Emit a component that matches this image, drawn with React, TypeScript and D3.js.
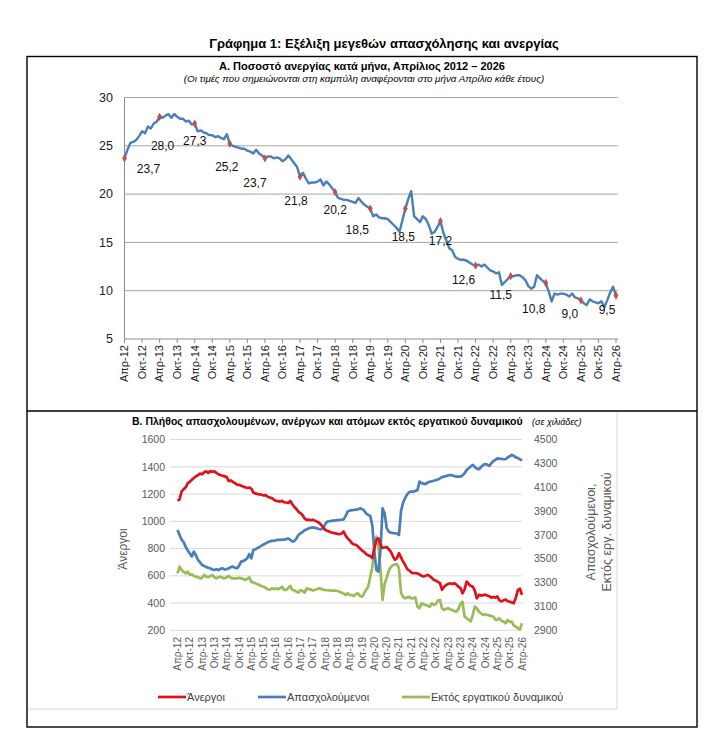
import React from "react";
import * as d3 from "d3";

const FONT = "'Liberation Sans', Arial, sans-serif";

// ---------- DATA ----------
const xTickLabels = ["Απρ-12","Οκτ-12","Απρ-13","Οκτ-13","Απρ-14","Οκτ-14","Απρ-15","Οκτ-15","Απρ-16","Οκτ-16","Απρ-17","Οκτ-17","Απρ-18","Οκτ-18","Απρ-19","Οκτ-19","Απρ-20","Οκτ-20","Απρ-21","Οκτ-21","Απρ-22","Οκτ-22","Απρ-23","Οκτ-23","Απρ-24","Οκτ-24","Απρ-25","Οκτ-25","Απρ-26"];

// Unemployment rate (%), monthly Apr-2012 .. Apr-2026
const unemploymentRate = [
  23.7, 24.6, 25.3, 25.4, 25.6, 26.0, 26.5, 26.3, 27.0, 26.8, 27.3, 27.5,
  28.0, 27.9, 28.1, 28.3, 27.9, 28.3, 28.0, 27.8, 27.8, 27.5, 27.6, 27.2,
  27.3, 26.5, 26.6, 26.4, 26.3, 26.1, 26.1, 25.9, 26.0, 25.8, 25.7, 26.2,
  25.2, 25.0, 24.9, 24.8, 24.7, 24.7, 24.5, 24.4, 24.2, 24.6, 24.2, 24.0,
  23.7, 23.9, 23.9, 23.7, 23.8, 23.7, 23.4, 23.6, 24.0, 23.6, 23.2, 22.8,
  21.8, 22.2, 21.6, 21.1, 21.2, 21.2, 21.3, 21.5, 20.9, 21.3, 21.0, 20.6,
  20.2, 19.6, 19.5, 19.4, 19.4, 19.3, 19.2, 19.1, 19.6, 19.2, 18.9, 18.7,
  18.5, 17.7, 17.9, 17.6, 17.5, 17.5, 17.4, 17.1, 16.8, 16.5, 16.1, 17.3,
  18.5, 19.5, 20.3, 17.7, 17.4, 17.1, 17.7, 17.4, 16.8, 15.9, 16.1, 16.6,
  17.2, 16.0, 15.2, 14.4, 14.2, 13.5, 13.3, 13.2, 13.2, 13.1, 12.9, 12.7,
  12.6, 12.7, 12.5, 12.7, 12.4, 12.1, 12.0, 11.8, 11.9, 10.6, 10.9, 11.2,
  11.5, 11.5, 11.6, 11.6, 11.4, 11.1, 10.5, 10.2, 10.4, 11.6, 11.3, 11.0,
  10.8, 9.9, 8.9, 9.7, 9.6, 9.7, 9.7, 9.6, 9.4, 9.7, 9.3, 9.2,
  9.0, 8.7, 8.5, 9.1, 8.9, 8.8, 8.7, 8.9, 8.3, 9.0, 9.8, 10.4,
  9.5
];

// Thousands, monthly Apr-2012 .. Apr-2026
const unemployed = [
  1153, 1160, 1220, 1235, 1250, 1280, 1290, 1305, 1318, 1330, 1340, 1350,
  1345, 1360, 1367, 1355, 1370, 1362, 1367, 1355, 1345, 1340, 1335, 1330,
  1325, 1295, 1300, 1290, 1280, 1270, 1268, 1262, 1255, 1250, 1245, 1248,
  1240, 1210, 1205, 1200, 1198, 1195, 1190, 1192, 1180, 1175, 1170, 1160,
  1150, 1148, 1145, 1150, 1140, 1138, 1135, 1150, 1125, 1105, 1090, 1070,
  1060, 1045, 1020, 1010, 1012, 1008, 1012, 1005, 998, 990, 975, 955,
  938, 930, 925, 918, 915, 912, 908, 905, 910, 925, 895, 875,
  860, 840, 830, 828, 815, 800, 785, 775, 760, 750, 745, 730,
  800, 865, 875, 830, 805, 808, 812, 795, 778, 745, 717, 729,
  766, 735, 705, 680, 650, 640, 625, 619, 620, 618, 610, 600,
  595, 600, 607, 598, 585, 570, 565, 555, 546, 497, 520, 533,
  540, 545, 540, 546, 535, 521, 510, 472, 500, 558, 540, 525,
  521, 490, 435, 460, 455, 458, 462, 455, 450, 440, 445, 440,
  448, 420, 412, 420, 425, 415, 410, 405, 399, 440, 497, 505,
  460
];

const employed = [
  3742, 3700, 3660, 3640, 3600, 3570, 3545, 3520, 3560, 3530, 3490, 3470,
  3448, 3440, 3430, 3425, 3420, 3410, 3406, 3412, 3405, 3415, 3420, 3410,
  3412, 3420, 3430, 3434, 3425, 3420, 3440, 3476, 3480, 3490, 3504, 3540,
  3504, 3574, 3580, 3590, 3600, 3610, 3620, 3630, 3640, 3645, 3650, 3652,
  3655, 3660, 3658, 3662, 3660, 3665, 3670, 3660, 3644, 3650, 3670, 3700,
  3714, 3725, 3740, 3747, 3755, 3760, 3764, 3760, 3755, 3750, 3747, 3756,
  3790, 3812, 3815, 3818, 3820, 3822, 3825, 3826, 3828, 3831, 3860, 3896,
  3904, 3908, 3909, 3912, 3915, 3923, 3918, 3905, 3880, 3868, 3860, 3780,
  3560, 3406, 3392, 3574, 3923, 3881, 3760, 3728, 3720, 3716, 3714, 3712,
  3700, 3900, 3970, 4010, 4040, 4060, 4063, 4063, 4070, 4075, 4147, 4135,
  4130, 4127, 4140, 4147, 4150, 4155, 4161, 4165, 4175, 4185, 4189, 4195,
  4200, 4203, 4200, 4195, 4189, 4189, 4189, 4200, 4217, 4245, 4260, 4275,
  4287, 4270, 4255, 4251, 4270, 4285, 4295, 4290, 4279, 4300, 4320, 4330,
  4343, 4340, 4338, 4335, 4335, 4350, 4360, 4371, 4365, 4351, 4345, 4335,
  4323
];

const outOfLabourForce = [
  3378, 3434, 3406, 3390, 3378, 3392, 3364, 3370, 3355, 3350, 3345, 3336,
  3340, 3364, 3350, 3345, 3355, 3364, 3345, 3336, 3345, 3350, 3340, 3336,
  3345, 3356, 3340, 3336, 3336, 3336, 3340, 3336, 3330, 3322, 3330, 3345,
  3308, 3300, 3294, 3285, 3280, 3270, 3266, 3255, 3244, 3240, 3252, 3248,
  3250, 3244, 3252, 3266, 3238, 3238, 3255, 3272, 3238, 3235, 3224, 3216,
  3238, 3230, 3216, 3252, 3244, 3244, 3233, 3240, 3245, 3252, 3248, 3240,
  3238, 3236, 3235, 3233, 3233, 3233, 3230, 3224, 3215, 3210, 3196, 3210,
  3196, 3195, 3188, 3205, 3210, 3188, 3182, 3210, 3240, 3266, 3350, 3430,
  3600, 3686, 3602, 3406, 3154, 3290, 3340, 3400, 3430, 3445, 3454, 3456,
  3420, 3215, 3180, 3168, 3175, 3182, 3168, 3170, 3175, 3098, 3085, 3126,
  3118, 3112, 3105, 3098, 3126, 3112, 3120, 3149, 3154, 3085, 3071, 3080,
  3085, 3075, 3071, 3060, 3056, 3080, 3120, 3140, 3015, 3000, 2990, 2975,
  3030, 3098, 3085, 3056, 3043, 3029, 3035, 3029, 3025, 3020, 3015, 2990,
  2987, 3001, 2980, 2973, 2959, 2987, 2970, 2973, 2940, 2931, 2917, 2908,
  2959
];

const yTicksA = [5, 10, 15, 20, 25, 30];
const yTicksLeftB = [200, 400, 600, 800, 1000, 1200, 1400, 1600];
const yTicksRightB = [2900, 3100, 3300, 3500, 3700, 3900, 4100, 4300, 4500];

// manual label placement (dx, dy from the April marker), like the original
const aprilLabelOffsets = [
  [24, 10], [3, 29], [0, 17], [-3, 23], [-10, 24], [-4, 24], [0, 18], [-13, 21],
  [-2, 28], [0, 20], [-12, 14], [-10, 19], [-12, 26], [-11, 13], [-9, 14]
];

const legendItems = [
  { label: "Άνεργοι", color: "#E0111B" },
  { label: "Απασχολούμενοι", color: "#4A7DBA" },
  { label: "Εκτός εργατικού δυναμικού", color: "#9BBB59" }
];

// ---------- CHART ----------
export default function App() {
  const n = unemploymentRate.length;
  const idx = d3.range(n);
  const aprilIdx = idx.filter((i) => i % 12 === 0);
  const tickIdx = idx.filter((i) => i % 6 === 0);

  // Panel A
  const xA = d3.scaleLinear().domain([0, n - 1]).range([124.5, 616]);
  const yA = d3.scaleLinear().domain([5, 30]).range([339, 97.5]);
  const lineA = d3.line<number>().x((i) => xA(i)).y((i) => yA(unemploymentRate[i]));
  const fmt = (v: number) => d3.format(".1f")(v).replace(".", ",");

  // Panel B
  const xB = d3.scaleLinear().domain([0, n - 1]).range([177.5, 522]);
  const yL = d3.scaleLinear().domain([200, 1600]).range([630.3, 439.6]);
  const yR = d3.scaleLinear().domain([2900, 4500]).range([630.3, 439.6]);
  const lineL = (arr: number[]) => d3.line<number>().x((i) => xB(i)).y((i) => yL(arr[i]))(idx) || "";
  const lineR = (arr: number[]) => d3.line<number>().x((i) => xB(i)).y((i) => yR(arr[i]))(idx) || "";

  const diamond = d3.symbol().type(d3.symbolDiamond).size(20)() || "";

  return (
    <svg width={722} height={744} style={{ position: "absolute", left: 0, top: 0, background: "#fff" }} fontFamily={FONT}>
      <rect x={0} y={0} width={722} height={744} fill="#fff" />
      {/* main title */}
      <text x={384} y={47.5} textAnchor="middle" fontSize={13} fontWeight="bold" fill="#000">
        Γράφημα 1: Εξέλιξη μεγεθών απασχόλησης και ανεργίας
      </text>

      {/* frame */}
      <rect x={27} y={56.5} width={670} height={670.5} fill="none" stroke="#000" strokeWidth={1.4} />
      <line x1={27} x2={697} y1={411} y2={411} stroke="#000" strokeWidth={1.4} />

      {/* ---------- Panel A ---------- */}
      <text x={362} y={70} textAnchor="middle" fontSize={11} fontWeight="bold" fill="#000">
        Α. Ποσοστό ανεργίας κατά μήνα, Απρίλιος 2012 – 2026
      </text>
      <text x={364} y={81.5} textAnchor="middle" fontSize={9.8} fontStyle="italic" fill="#000">
        (Οι τιμές που σημειώνονται στη καμπύλη αναφέρονται στο μήνα Απρίλιο κάθε έτους)
      </text>

      {yTicksA.map((t) => (
        <g key={"ga" + t}>
          {t > 5 && <line x1={124.5} x2={618} y1={yA(t)} y2={yA(t)} stroke="#A6A6A6" strokeWidth={1} />}
          <text x={113} y={yA(t)} dy="0.35em" textAnchor="end" fontSize={12.5} fill="#222">{t}</text>
        </g>
      ))}
      <line x1={124.5} x2={124.5} y1={97.5} y2={339} stroke="#8C8C8C" strokeWidth={1} />
      <line x1={124.5} x2={618} y1={339} y2={339} stroke="#8C8C8C" strokeWidth={1} />
      {tickIdx.map((i, k) => (
        <g key={"ta" + i}>
          <line x1={xA(i)} x2={xA(i)} y1={339} y2={343} stroke="#8C8C8C" strokeWidth={1} />
          <text transform={`translate(${xA(i)},345) rotate(-90)`} dy="0.35em" textAnchor="end" fontSize={11} fill="#222">
            {xTickLabels[k]}
          </text>
        </g>
      ))}
      <path d={lineA(idx) || ""} fill="none" stroke="#4A7EBB" strokeWidth={2.4} strokeLinejoin="round" />
      {aprilIdx.map((i, k) => (
        <g key={"ma" + i}>
          <path d={diamond} transform={`translate(${xA(i)},${yA(unemploymentRate[i])})`} fill="#C0504D" />
          <text x={xA(i) + aprilLabelOffsets[k][0]} y={yA(unemploymentRate[i]) + aprilLabelOffsets[k][1]} dy="0.35em"
            textAnchor="middle" fontSize={12} fill="#111">
            {fmt(unemploymentRate[i])}
          </text>
        </g>
      ))}

      {/* ---------- Panel B ---------- */}
      <text x={132} y={425} fontSize={10.5} fontWeight="bold" fill="#000">
        Β. Πλήθος απασχολουμένων, ανέργων και ατόμων εκτός εργατικού δυναμικού
      </text>
      <text x={532} y={425} fontSize={9} fontStyle="italic" fill="#000">(σε χιλιάδες)</text>

      {/* chart area border (right & bottom edges visible) */}
      <line x1={617} x2={617} y1={412} y2={709} stroke="#D9D9D9" strokeWidth={1} />
      <line x1={28} x2={617} y1={709} y2={709} stroke="#D9D9D9" strokeWidth={1} />

      {yTicksLeftB.map((t) => (
        <g key={"gl" + t}>
          <line x1={170} x2={522} y1={yL(t)} y2={yL(t)} stroke="#D9D9D9" strokeWidth={1} />
          <text x={165} y={yL(t)} dy="0.35em" textAnchor="end" fontSize={10.5} fill="#595959">{t}</text>
        </g>
      ))}
      {yTicksRightB.map((t) => (
        <text key={"gr" + t} x={534} y={yR(t)} dy="0.35em" textAnchor="start" fontSize={10.5} fill="#595959">{t}</text>
      ))}
      {tickIdx.map((i, k) => (
        <text key={"tb" + i} transform={`translate(${xB(i)},637) rotate(-90)`} dy="0.35em" textAnchor="end" fontSize={10} fill="#595959">
          {xTickLabels[k]}
        </text>
      ))}
      <text transform={`translate(127,549) rotate(-90)`} textAnchor="middle" fontSize={12} fill="#595959">Άνεργοι</text>
      <text transform={`translate(594.5,532) rotate(-90)`} textAnchor="middle" fontSize={12.5} fill="#595959">Απασχολούμενοι,</text>
      <text transform={`translate(611,532) rotate(-90)`} textAnchor="middle" fontSize={12.5} fill="#595959">Εκτός εργ. δυναμικού</text>

      <path d={lineR(outOfLabourForce)} fill="none" stroke="#9BBB59" strokeWidth={2.7} strokeLinejoin="round" />
      <path d={lineR(employed)} fill="none" stroke="#4A7DBA" strokeWidth={2.7} strokeLinejoin="round" />
      <path d={lineL(unemployed)} fill="none" stroke="#E0111B" strokeWidth={2.7} strokeLinejoin="round" />

      {/* legend */}
      {legendItems.map((it, k) => {
        const xs = [158, 258, 402][k];
        return (
          <g key={"lg" + k}>
            <line x1={xs} x2={xs + 28} y1={697} y2={697} stroke={it.color} strokeWidth={2.7} />
            <text x={xs + 29} y={697} dy="0.35em" fontSize={11} fill="#404040">{it.label}</text>
          </g>
        );
      })}
    </svg>
  );
}
